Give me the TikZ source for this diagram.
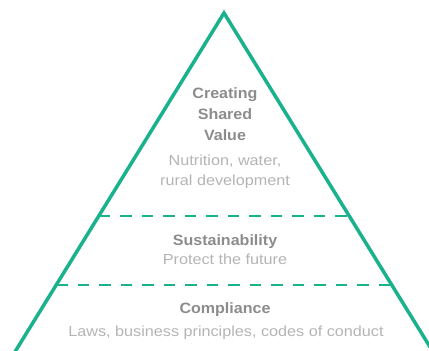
\documentclass[tikz,border=0pt]{standalone}
\usepackage{fontspec}
\setmainfont{Liberation Sans}
\newfontfamily\headf[FakeStretch=1.07]{Liberation Sans}
\newfontfamily\bodyf[FakeStretch=1.11]{Liberation Sans}
\definecolor{pgreen}{RGB}{26,178,140}
\definecolor{headgray}{RGB}{140,140,140}
\definecolor{bodygray}{RGB}{180,180,180}
\begin{document}
\begin{tikzpicture}[x=1pt,y=-1pt,
  side/.style={draw=pgreen,line width=3.5pt,line join=miter},
  sep/.style={draw=pgreen,line width=1.8pt,dash pattern=on 11.5pt off 10pt},
  head/.style={text=headgray,font=\headf\bfseries\fontsize{15}{18}\selectfont,anchor=base,inner sep=0pt},
  body/.style={text=bodygray,font=\bodyf\fontsize{14.6}{18}\selectfont,anchor=base,inner sep=0pt}]
\useasboundingbox (0,0) rectangle (429,351);
\clip (0,0) rectangle (429,351);
% geometry
\coordinate (apex) at (224,13);
\coordinate (bl) at (12.4,356);
\coordinate (br) at (435.6,356);
\coordinate (s1l) at (98.7,216);
\coordinate (s1r) at (349.3,216);
\coordinate (s2l) at (56.2,285);
\coordinate (s2r) at (391.8,285);
% separators
\draw[sep] (s1l) -- (s1r);
\draw[sep] (s2l) -- (s2r);
% triangle sides
\draw[side] (bl) -- (apex) -- (br);
% texts
\node[head] (csv1) at (225,98.5) {Creating};
\node[head] (csv2) at (225,119.5) {Shared};
\node[head] (csv3) at (225,140) {Value};
\node[body] (csvd1) at (225,165) {Nutrition, water,};
\node[body] (csvd2) at (225,185) {rural development};
\node[head] (sus) at (225,245) {Sustainability};
\node[body] (susd) at (225,264) {Protect the future};
\node[head] (comp) at (225,313) {Compliance};
\node[body] (compd) at (226,336) {Laws, business principles, codes of conduct};
\end{tikzpicture}
\end{document}
